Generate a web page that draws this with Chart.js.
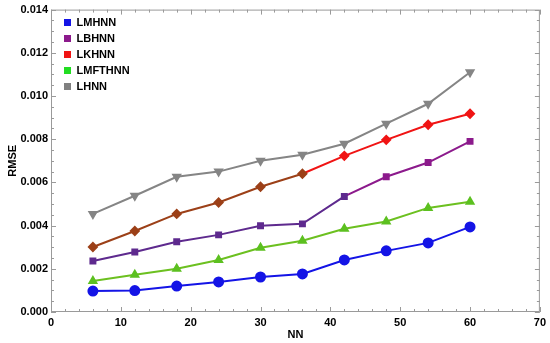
<!DOCTYPE html>
<html>
<head>
<meta charset="utf-8">
<script src="https://cdn.jsdelivr.net/npm/chart.js@4/dist/chart.umd.min.js"></script>
<style>
    html, body { margin: 0; padding: 0; background: #fff; }
    #wrap { width: 550px; height: 343px; position: relative; }
</style>
</head>
<body>
<div id="wrap"><canvas id="rmseChart"></canvas></div>
<script>
const nnValues = [6, 12, 18, 24, 30, 36, 42, 48, 54, 60];
const lmhnn = [0.00097, 0.00099, 0.00120, 0.00139, 0.00162, 0.00176, 0.00241, 0.00283, 0.00320, 0.00394];
const lbhnn = [0.00236, 0.00278, 0.00325, 0.00357, 0.00399, 0.00408, 0.00535, 0.00626, 0.00692, 0.00790];
const lkhnn = [0.00301, 0.00375, 0.00454, 0.00507, 0.00580, 0.00640, 0.00723, 0.00797, 0.00867, 0.00918];
const lmfthnn = [0.00144, 0.00172, 0.00200, 0.00241, 0.00297, 0.00330, 0.00385, 0.00419, 0.00482, 0.00510];
const lhnn = [0.00454, 0.00538, 0.00626, 0.00650, 0.00700, 0.00728, 0.00779, 0.00872, 0.00964, 0.01110];
const seriesLabels = ['LMHNN', 'LBHNN', 'LKHNN', 'LMFTHNN', 'LHNN'];
const xTicks = [0, 10, 20, 30, 40, 50, 60, 70];
const yTicks = [0, 0.002, 0.004, 0.006, 0.008, 0.010, 0.012, 0.014];

const legendColors = ['#1414e6', '#8c1a8c', '#f01414', '#22dd22', '#808080'];
const fontFamily = '"Liberation Sans", Arial, Helvetica, sans-serif';

function toPoints(values) {
    return values.map((v, i) => ({ x: nnValues[i], y: v }));
}

// frame with inward major/minor ticks, Mathematica style
const frameTicks = {
    id: 'frameTicks',
    beforeDatasetsDraw(chart) {
        const { ctx, chartArea: a, scales } = chart;
        ctx.save();
        ctx.strokeStyle = '#9a9a9a';
        ctx.lineWidth = 1;
        ctx.strokeRect(a.left + 0.5, a.top + 0.5, a.right - a.left - 1, a.bottom - a.top - 1);
        ctx.beginPath();
        for (let v = 0; v <= 70; v += 2) {
            const px = Math.round(scales.x.getPixelForValue(v)) + 0.5;
            const len = v % 10 === 0 ? 5 : 3;
            ctx.moveTo(px, a.bottom); ctx.lineTo(px, a.bottom - len);
            ctx.moveTo(px, a.top); ctx.lineTo(px, a.top + len);
        }
        for (let k = 0; k <= 28; k++) {
            const v = k * 0.0005;
            const py = Math.round(scales.y.getPixelForValue(v)) + 0.5;
            const len = k % 4 === 0 ? 5 : 3;
            ctx.moveTo(a.left, py); ctx.lineTo(a.left + len, py);
            ctx.moveTo(a.right, py); ctx.lineTo(a.right - len, py);
        }
        ctx.stroke();
        ctx.restore();
    }
};

// nudge the in-plot legend a little away from the frame
const legendNudge = {
    id: 'legendNudge',
    afterLayout(chart) {
        const lg = chart.legend;
        if (!lg) return;
        lg.left += 8; lg.right += 8;
        lg.top += 12; lg.bottom += 12;
    }
};

const ctx = document.getElementById('rmseChart').getContext('2d');

new Chart(ctx, {
    type: 'line',
    data: {
        datasets: [
            {
                label: seriesLabels[0],
                data: toPoints(lmhnn),
                borderColor: '#1414e6',
                backgroundColor: '#1414e6',
                pointBackgroundColor: '#1414e6',
                pointBorderColor: '#1414e6',
                pointStyle: 'circle',
                pointRadius: 4.5,
                borderWidth: 2
            },
            {
                label: seriesLabels[1],
                data: toPoints(lbhnn),
                borderColor: '#8c1a8c',
                backgroundColor: '#8c1a8c',
                pointBackgroundColor: nnValues.map(x => x <= 42 ? '#5e2a8e' : '#8c1a8c'),
                pointBorderColor: nnValues.map(x => x <= 42 ? '#5e2a8e' : '#8c1a8c'),
                segment: { borderColor: c => c.p1.parsed.x <= 42 ? '#5e2a8e' : '#8c1a8c' },
                pointStyle: 'rect',
                pointRadius: 3.5,
                borderWidth: 2
            },
            {
                label: seriesLabels[2],
                data: toPoints(lkhnn),
                borderColor: '#f01414',
                backgroundColor: '#f01414',
                pointBackgroundColor: nnValues.map(x => x <= 36 ? '#9c4018' : '#f01414'),
                pointBorderColor: nnValues.map(x => x <= 36 ? '#9c4018' : '#f01414'),
                segment: { borderColor: c => c.p1.parsed.x <= 36 ? '#9c4018' : '#f01414' },
                pointStyle: 'rectRot',
                pointRadius: 4,
                borderWidth: 2
            },
            {
                label: seriesLabels[3],
                data: toPoints(lmfthnn),
                borderColor: '#6cc020',
                backgroundColor: '#22dd22',
                pointBackgroundColor: '#5cc020',
                pointBorderColor: '#5cc020',
                pointStyle: 'triangle',
                pointRadius: 4,
                borderWidth: 2
            },
            {
                label: seriesLabels[4],
                data: toPoints(lhnn),
                borderColor: '#858585',
                backgroundColor: '#808080',
                pointBackgroundColor: '#858585',
                pointBorderColor: '#858585',
                pointStyle: 'triangle',
                rotation: 180,
                pointRadius: 4,
                borderWidth: 2
            }
        ]
    },
    options: {
        responsive: true,
        maintainAspectRatio: false,
        animation: false,
        layout: { padding: { top: 9, right: 9, left: 0, bottom: 0 } },
        plugins: {
            tooltip: { enabled: false },
            legend: {
                position: 'chartArea',
                align: 'start',
                labels: {
                    boxWidth: 7,
                    boxHeight: 7,
                    padding: 5,
                    color: '#000',
                    font: { family: fontFamily, size: 11, weight: 'bold' },
                    generateLabels(chart) {
                        const items = Chart.defaults.plugins.legend.labels.generateLabels(chart);
                        items.forEach((it, i) => {
                            it.fillStyle = legendColors[i];
                            it.strokeStyle = legendColors[i];
                            it.lineWidth = 0;
                            it.pointStyle = undefined;
                        });
                        return items;
                    }
                }
            }
        },
        scales: {
            x: {
                type: 'linear',
                min: 0,
                max: 70,
                afterFit(scale) { scale.height = 31; },
                afterBuildTicks(scale) { scale.ticks = xTicks.map(v => ({ value: v })); },
                grid: { display: false, drawTicks: false },
                border: { display: false },
                ticks: {
                    padding: 4,
                    color: '#000',
                    maxRotation: 0,
                    font: { family: fontFamily, size: 11, weight: 'bold' }
                },
                title: {
                    display: true,
                    text: 'NN',
                    color: '#000',
                    padding: { top: 1, bottom: 1 },
                    font: { family: fontFamily, size: 11, weight: 'bold' }
                }
            },
            y: {
                min: 0,
                max: 0.014,
                afterFit(scale) { scale.width = 51; },
                afterBuildTicks(scale) { scale.ticks = yTicks.map(v => ({ value: v })); },
                grid: { display: false, drawTicks: false },
                border: { display: false },
                ticks: {
                    padding: 3,
                    color: '#000',
                    font: { family: fontFamily, size: 11, weight: 'bold' },
                    callback: v => Number(v).toFixed(3)
                },
                title: {
                    display: true,
                    text: 'RMSE',
                    color: '#000',
                    padding: { top: 6, bottom: 6 },
                    font: { family: fontFamily, size: 11, weight: 'bold' }
                }
            }
        }
    },
    plugins: [frameTicks, legendNudge]
});
</script>
</body>
</html>
